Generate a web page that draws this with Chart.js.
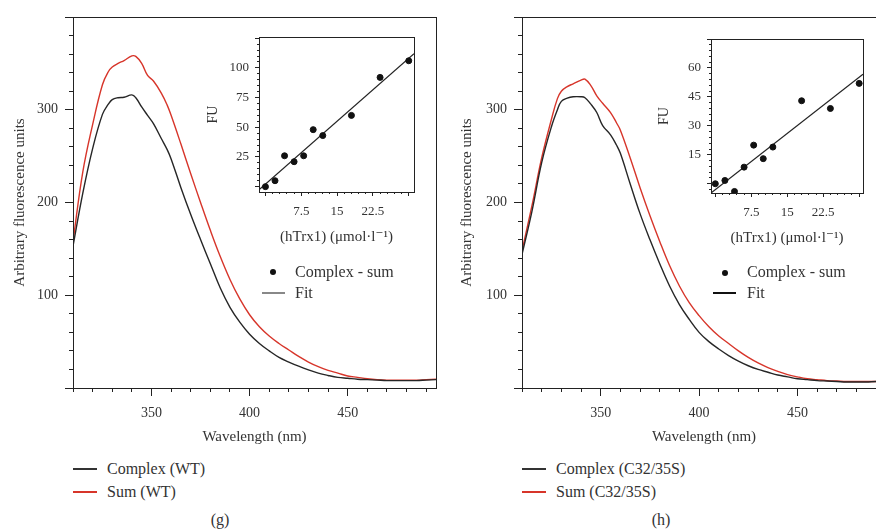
<!DOCTYPE html>
<html>
<head>
<meta charset="utf-8">
<script src="https://cdn.jsdelivr.net/npm/chart.js@4.4.1/dist/chart.umd.min.js"></script>
<style>
    html, body { margin: 0; padding: 0; background: #fff; }
    body { position: relative; width: 876px; height: 531px; overflow: hidden; font-family: "Liberation Serif", "DejaVu Serif", serif; color: #333; }
    canvas { position: absolute; }
    .txt { position: absolute; font-size: 16px; line-height: 20px; white-space: nowrap; }
    .ln { position: absolute; height: 2px; }
    .dot { position: absolute; width: 6px; height: 6px; border-radius: 50%; background: #111; }
</style>
</head>
<body>
<canvas id="mainG" width="440" height="455" style="left:0;top:0;width:440px;height:455px"></canvas>
<canvas id="mainH" width="441" height="455" style="left:449px;top:0;width:441px;height:455px"></canvas>
<canvas id="insetG" width="220" height="235" style="left:200px;top:20px;width:220px;height:235px"></canvas>
<canvas id="insetH" width="219" height="235" style="left:650px;top:20px;width:219px;height:235px"></canvas>

<!-- inset legends -->
<div class="dot" style="left:270px;top:269px"></div>
<div class="txt" style="left:295px;top:262px">Complex - sum</div>
<div class="ln" style="left:262px;top:292px;width:23px;background:#888"></div>
<div class="txt" style="left:295px;top:283px">Fit</div>

<div class="dot" style="left:722px;top:270px"></div>
<div class="txt" style="left:747px;top:262px">Complex - sum</div>
<div class="ln" style="left:713px;top:292px;width:23px;background:#111"></div>
<div class="txt" style="left:747px;top:283px">Fit</div>

<!-- main legends -->
<div class="ln" style="left:73px;top:468px;width:24px;background:#333"></div>
<div class="txt" style="left:107px;top:459px">Complex (WT)</div>
<div class="ln" style="left:73px;top:491px;width:24px;background:#d7352a"></div>
<div class="txt" style="left:107px;top:482px">Sum (WT)</div>

<div class="ln" style="left:522px;top:468px;width:24px;background:#333"></div>
<div class="txt" style="left:556px;top:459px">Complex (C32/35S)</div>
<div class="ln" style="left:522px;top:491px;width:24px;background:#d7352a"></div>
<div class="txt" style="left:556px;top:482px">Sum (C32/35S)</div>

<div class="txt" style="left:200px;top:510px;width:40px;text-align:center">(g)</div>
<div class="txt" style="left:641px;top:510px;width:40px;text-align:center">(h)</div>

<script>
// Emission spectra
var wavelength = [310, 315, 320, 325, 328, 330, 333, 336, 340, 342, 345, 348, 351, 355, 358, 360,
    365, 370, 375, 380, 385, 390, 395, 400, 405, 410, 415, 420, 425, 430, 435, 440, 445, 450,
    455, 460, 465, 470, 475, 480, 485, 490, 495];
var complexWT = [153, 210, 258, 295, 306, 311, 313, 313.5, 316, 313, 303, 294, 285, 269, 257, 247,
    216, 187, 160, 134, 108, 87, 71, 58, 48, 40, 33, 28, 23.5, 19.5, 16, 13.5, 11.5, 10.5,
    9.5, 9, 8.5, 8, 8, 8, 8, 8.5, 9];
var sumWT = [158, 233, 284, 327, 341, 346, 350, 353, 358, 357.5, 350, 337, 331, 318, 305, 294,
    263, 231, 200, 170, 142, 117, 96, 79, 66, 56, 48, 41, 34, 28, 23, 19, 16, 13,
    11.5, 10, 9, 8.5, 8.5, 8.5, 8.5, 9, 9.5];
var complexMut = [144, 190, 243, 282, 300, 309, 312.5, 314, 314, 313, 306, 297, 283, 273, 262, 253,
    220, 188, 160, 134, 110, 90, 74, 60, 50, 42, 35, 29, 24, 20, 17, 14, 12, 10,
    9, 8, 7.5, 7, 6.5, 6.5, 6.5, 7, 7];
var sumMut = [148, 196, 248, 290, 312, 320, 325, 328, 332, 333, 326, 315, 307, 297, 286, 278,
    248, 216, 186, 158, 132, 110, 92, 78, 66, 56, 48, 40, 33, 27, 22, 18, 14.5, 12,
    10, 9, 8, 7.5, 7, 7, 7, 7, 7];

// Inset titration data
var hTrx = [0, 2, 4, 6, 8, 10, 12, 18, 24, 30];
var fuWT = [0, 5, 26, 21, 26, 48, 43, 60, 92, 106];
var fuMut = [0, 1.7, -4, 8.6, 20, 13, 19, 43, 39, 52];
var fitWTx = [-1.35, 31.1];
var fitWTy = [-2.6, 112];
var fitMutx = [-0.9, 30.8];
var fitMuty = [-4.8, 56.7];

// Tick labels
var mainXTicks = [350, 400, 450];
var mainYTicks = [100, 200, 300];
var insetXTicks = [7.5, 15, 22.5];
var insetYTicksWT = [25, 50, 75, 100];
var insetYTicksMut = [15, 30, 45, 60];

var SERIF = '"Liberation Serif", "DejaVu Serif", serif';
var TXT = '#333';
var RED = '#d7352a';
var AX = '#222';

function pts(xs, ys) {
    return xs.map(function (x, i) { return { x: x, y: ys[i] }; });
}

// box around the plot area
var framePlugin = {
    id: 'frame',
    afterDraw: function (chart) {
        var ctx = chart.ctx, a = chart.chartArea;
        ctx.save();
        ctx.strokeStyle = AX;
        ctx.lineWidth = 1;
        ctx.strokeRect(Math.round(a.left) + 0.5, Math.round(a.top) + 0.5,
            Math.round(a.right - a.left), Math.round(a.bottom - a.top));
        ctx.restore();
    }
};

// tick positions every `step` inside [min, max]
function stepTicks(step, major) {
    return function (scale) {
        var out = [];
        var n0 = Math.ceil(scale.min / step - 1e-6), n1 = Math.floor(scale.max / step + 1e-6);
        for (var k = n0; k <= n1; k++) out.push({ value: k * step });
        scale.ticks = out;
    };
}

function labelIn(list) {
    return function (v) {
        for (var i = 0; i < list.length; i++) if (Math.abs(list[i] - v) < 1e-6) return String(list[i]);
        return '';
    };
}

// major axis: labelled, long ticks; minor axis: zero size, short ticks
function axisPair(pos, o) {
    var horiz = pos === 'bottom';
    var major = {
        type: 'linear', position: pos, min: o.min, max: o.max, weight: 0,
        afterBuildTicks: stepTicks(o.major),
        afterFit: function (s) { if (horiz) s.height = o.size; else s.width = o.size; },
        grid: { display: true, drawOnChartArea: false, drawTicks: true, tickLength: o.majorLen,
            tickColor: AX, tickWidth: 1 },
        border: { display: false },
        ticks: { padding: o.pad, color: TXT, font: { family: SERIF, size: o.font },
            callback: labelIn(o.labels), autoSkip: false, maxRotation: 0 },
        title: { display: true, text: o.title, color: TXT, font: { family: SERIF, size: o.tfont },
            padding: horiz ? { top: 0, bottom: o.tpad } : { top: o.tpad, bottom: 0 } }
    };
    var minor = {
        type: 'linear', position: pos, min: o.min, max: o.max, weight: -1,
        afterBuildTicks: stepTicks(o.minor),
        afterFit: function (s) { if (horiz) s.height = 0; else s.width = 0; },
        grid: { display: true, drawOnChartArea: false, drawTicks: true, tickLength: o.minorLen,
            tickColor: AX, tickWidth: 1 },
        border: { display: false },
        ticks: { padding: 0, callback: function () { return ''; }, autoSkip: false, maxRotation: 0 }
    };
    return [major, minor];
}

function mainChart(id, black, red, titlePad) {
    var xs = axisPair('bottom', { min: 310, max: 495, major: 50, minor: 10, majorLen: 8, minorLen: 4,
        size: 67, pad: 9, font: 14, labels: mainXTicks, title: 'Wavelength (nm)', tfont: 15, tpad: 9 });
    var ys = axisPair('left', { min: 0, max: 400, major: 100, minor: 20, majorLen: 8, minorLen: 4,
        size: 73, pad: 7, font: 14, labels: mainYTicks, title: 'Arbitrary fluorescence units', tfont: 15, tpad: titlePad });
    return new Chart(document.getElementById(id), {
        type: 'line',
        data: {
            datasets: [
                { data: pts(wavelength, black), borderColor: '#262626', borderWidth: 1.4 },
                { data: pts(wavelength, red), borderColor: RED, borderWidth: 1.4 }
            ]
        },
        options: {
            responsive: false,
            animation: false,
            devicePixelRatio: 1,
            layout: { padding: { top: 17, right: 4, left: 0, bottom: 0 } },
            elements: { point: { radius: 0 }, line: { tension: 0.4 } },
            scales: { x: xs[0], xm: xs[1], y: ys[0], ym: ys[1] },
            plugins: { legend: { display: false }, tooltip: { enabled: false } }
        },
        plugins: [framePlugin]
    });
}

function insetChart(id, fu, fx, fy, o) {
    var xs = axisPair('bottom', { min: o.xmin, max: o.xmax, major: 7.5, minor: 1.5, majorLen: 4, minorLen: 2,
        size: o.xh, pad: o.xpad, font: 13, labels: insetXTicks,
        title: '(hTrx1) (\u03bcmol\u00b7l\u207b\u00b9)', tfont: 15, tpad: o.tpad });
    var ys = axisPair('left', { min: o.ymin, max: o.ymax, major: o.ymajor, minor: o.ymajor / 5, majorLen: 4, minorLen: 2,
        size: o.yw, pad: 6, font: 13, labels: o.yticks, title: 'FU', tfont: 14, tpad: o.fpad });
    return new Chart(document.getElementById(id), {
        type: 'scatter',
        data: {
            datasets: [
                { data: pts(hTrx, fu), backgroundColor: '#111', borderColor: '#111', pointRadius: 3 },
                { data: pts(fx, fy), showLine: true, pointRadius: 0, borderColor: '#222', borderWidth: 1.2 }
            ]
        },
        options: {
            responsive: false,
            animation: false,
            devicePixelRatio: 1,
            layout: { padding: { top: o.top, right: 6, left: 0, bottom: 0 } },
            scales: { x: xs[0], xm: xs[1], y: ys[0], ym: ys[1] },
            plugins: { legend: { display: false }, tooltip: { enabled: false } }
        },
        plugins: [framePlugin]
    });
}

mainChart('mainG', complexWT, sumWT, 11);
mainChart('mainH', complexMut, sumMut, 9);

insetChart('insetG', fuWT, fitWTx, fitWTy, {
    top: 17, xmin: -1.35, xmax: 31.1, ymin: -4.5, ymax: 126, xh: 63, yw: 59,
    xpad: 8, tpad: 9, fpad: 5, yticks: insetYTicksWT, ymajor: 25
});
insetChart('insetH', fuMut, fitMutx, fitMuty, {
    top: 19, xmin: -0.9, xmax: 30.8, ymin: -4.8, ymax: 75, xh: 62, yw: 61,
    xpad: 8, tpad: 8, fpad: 6, yticks: insetYTicksMut, ymajor: 15
});
</script>
</body>
</html>
